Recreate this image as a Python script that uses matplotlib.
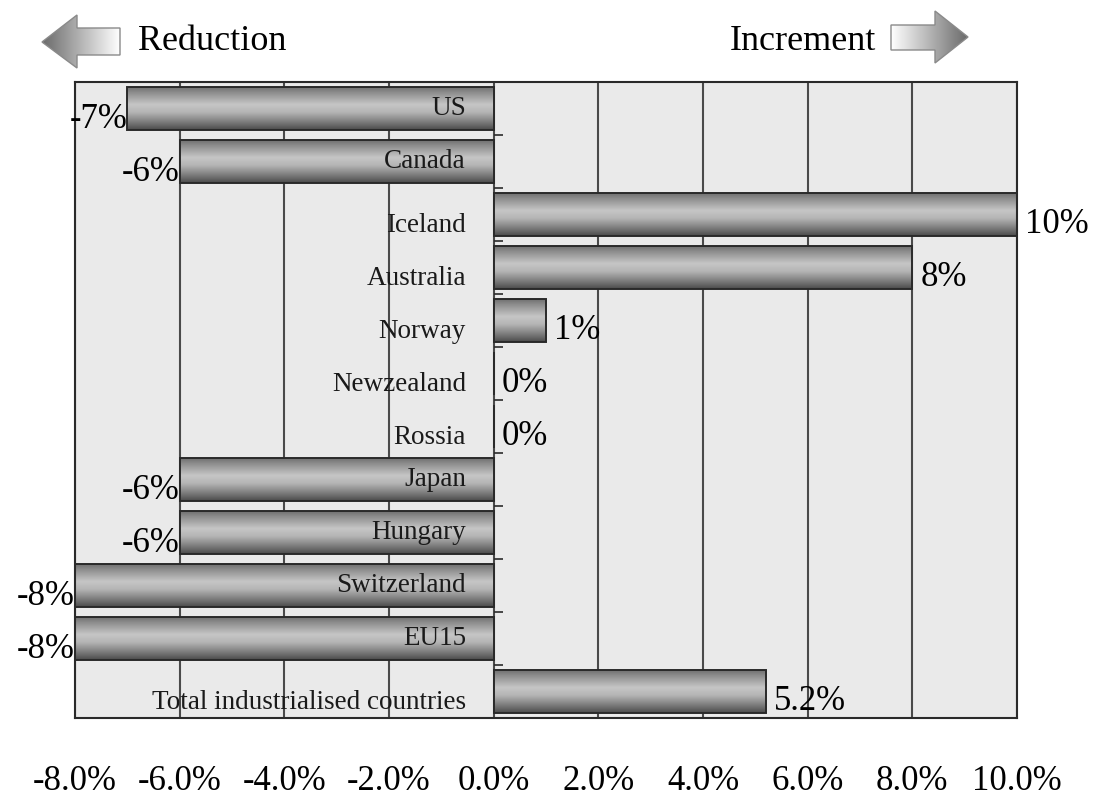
import numpy as np
import matplotlib
matplotlib.use("Agg")
import matplotlib.pyplot as plt
from matplotlib.colors import LinearSegmentedColormap
from matplotlib.patches import Polygon

plt.rcParams['font.family'] = ['Liberation Serif', 'DejaVu Serif']

countries = ['US', 'Canada', 'Iceland', 'Australia', 'Norway', 'Newzealand', 'Rossia',
             'Japan', 'Hungary', 'Switzerland', 'EU15', 'Total industrialised countries']
changes = [-7, -6, 10, 8, 1, 0, 0, -6, -6, -8, -8, 5.2]
value_labels = ['-7%', '-6%', '10%', '8%', '1%', '0%', '0%', '-6%', '-6%', '-8%', '-8%', '5.2%']
xticks = [-8, -6, -4, -2, 0, 2, 4, 6, 8, 10]

bar_cmap = LinearSegmentedColormap.from_list(
    'cyl', [(0, '#6a6a6a'), (0.15, '#8e8e8e'), (0.42, '#c6c6c6'), (0.6, '#b4b4b4'),
            (0.85, '#747474'), (1, '#4a4a4a')])
arrow_cmap = LinearSegmentedColormap.from_list('arr', ['#ffffff', '#6a6a6a'])

fig = plt.figure(figsize=(10.93, 8.02), dpi=100)
ax = fig.add_axes([75 / 1093, 1 - 718 / 802, (1017 - 75) / 1093, (718 - 82) / 802])
ax.set_facecolor('#eaeaea')

y = np.arange(len(countries))
bars = ax.barh(y, changes, height=0.83, color='none', edgecolor='#2a2a2a', linewidth=1.4, zorder=3)

grad = np.linspace(0, 1, 256).reshape(-1, 1)
for b in bars:
    x0, y0, w, h = b.get_x(), b.get_y(), b.get_width(), b.get_height()
    if w == 0:
        continue
    im = ax.imshow(grad, cmap=bar_cmap, aspect='auto', extent=(x0, x0 + w, y0 + h, y0),
                   zorder=2, interpolation='bilinear')
    im.set_clip_path(b)

ax.set_xlim(-8, 10)
ax.set_ylim(len(countries) - 0.5, -0.5)
ax.set_xticks(xticks)
ax.set_xticklabels([f'{t:.1f}%' for t in xticks], fontsize=25)
ax.tick_params(axis='x', length=0, pad=34)
ax.set_yticks([])
ax.grid(axis='x', color='#4a4a4a', linewidth=1.5, zorder=1)
for s in ax.spines.values():
    s.set_color('#2a2a2a')
    s.set_linewidth(1.5)

# small ticks on the zero line between categories
ax.hlines(y[:-1] + 0.5, 0, 0.17, color='#2a2a2a', linewidth=1.2, zorder=4)

for yi, (name, v, lab) in enumerate(zip(countries, changes, value_labels)):
    name_dy = 0.0 if v < 0 else 0.2
    ax.text(-0.53, yi + name_dy, name, ha='right', va='center', fontsize=19.5,
            color='#1a1a1a', zorder=5)
    if v < 0:
        ax.text(v, yi + 0.2, lab, ha='right', va='center', fontsize=25, zorder=5)
    else:
        ax.text(v + 0.15, yi + 0.18, lab, ha='left', va='center', fontsize=25, zorder=5)

# header arrows
ov = fig.add_axes([0, 0, 1, 1], facecolor='none')
ov.set_xlim(0, 1093)
ov.set_ylim(802, 0)
ov.axis('off')

left_arrow = [(42, 42), (77, 15), (77, 28), (120, 28), (120, 55), (77, 55), (77, 68)]
right_arrow = [(968, 37), (935, 11), (935, 25), (891, 25), (891, 50), (935, 50), (935, 63)]
for pts, lr in [(left_arrow, False), (right_arrow, True)]:
    poly = Polygon(pts, closed=True, facecolor='none', edgecolor='#8a8a8a', linewidth=1)
    ov.add_patch(poly)
    xs = [p[0] for p in pts]
    ys = [p[1] for p in pts]
    g = np.linspace(0, 1, 256).reshape(1, -1)
    if not lr:
        g = g[:, ::-1]
    im = ov.imshow(g, cmap=arrow_cmap, aspect='auto',
                   extent=(min(xs), max(xs), max(ys), min(ys)), interpolation='bilinear')
    im.set_clip_path(poly)
ov.set_xlim(0, 1093)
ov.set_ylim(802, 0)

ov.text(138, 42, 'Reduction', ha='left', va='center', fontsize=26)
ov.text(876, 42, 'Increment', ha='right', va='center', fontsize=26)

fig.savefig('out.png', dpi=100)
